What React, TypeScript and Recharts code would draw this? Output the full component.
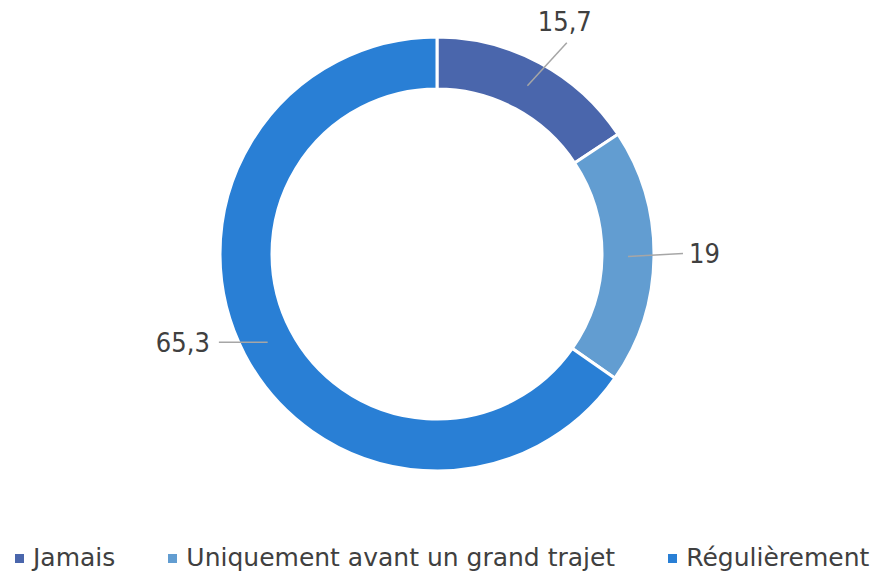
import React from 'react';
import { PieChart, Pie, Cell, Legend } from 'recharts';

const categories = ['Jamais', 'Uniquement avant un grand trajet', 'Régulièrement'];
const values = [15.7, 19, 65.3];
const colors = ['#4A66AC', '#629DD1', '#297FD5'];

const data = categories.map((name, i) => ({ name, value: values[i] }));

const RAD = Math.PI / 180;
const FONT = '"DejaVu Sans", sans-serif';

const fmt = (v: number) => String(v).replace('.', ',');

const renderLabel = (props: any) => {
  const { cx, cy, midAngle, innerRadius, outerRadius, value } = props;
  const cos = Math.cos(-midAngle * RAD);
  const sin = Math.sin(-midAngle * RAD);
  const rMid = (innerRadius + outerRadius) / 2;
  const sx = cx + rMid * cos;
  const sy = cy + rMid * sin;
  const rEnd = outerRadius + 29;
  const right = cos >= 0;
  const horizontal = Math.abs(sin) < 0.6;
  let ex: number, ey: number, tx: number, ty: number;
  let anchor: 'start' | 'end' | 'middle';
  if (horizontal) {
    // leader line runs flat out of the ring
    ex = cx + rEnd * cos;
    ey = sy - (right ? 3 : 0);
    tx = ex + (right ? 6 : -9);
    ty = ey;
    anchor = right ? 'start' : 'end';
  } else {
    const a = (-midAngle + 3.3) * RAD;
    ex = cx + (rEnd + 2) * Math.cos(a);
    ey = cy + (rEnd + 2) * Math.sin(a);
    tx = ex - 2;
    ty = ey - 21;
    anchor = 'middle';
  }
  return (
    <g>
      <line x1={sx} y1={sy} x2={ex} y2={ey} stroke="#A6A6A6" strokeWidth={1.5} />
      <text
        x={tx}
        y={ty}
        textAnchor={anchor}
        dominantBaseline="central"
        fill="#404040"
        fontSize={27}
        fontFamily={FONT}
        style={{ fontStretch: 'condensed' }}
      >
        {fmt(value)}
      </text>
    </g>
  );
};

const LegendContent = () => (
  <div
    style={{
      display: 'flex',
      alignItems: 'center',
      fontFamily: FONT,
      fontSize: 25,
      lineHeight: '32px',
      color: '#404040',
      whiteSpace: 'nowrap',
    }}
  >
    {categories.map((c, i) => (
      <div key={c} style={{ display: 'flex', alignItems: 'center', marginRight: i < 2 ? 53 : 0 }}>
        <span
          style={{
            display: 'inline-block',
            width: 9,
            height: 9,
            background: colors[i],
            marginRight: 9,
          }}
        />
        <span>{c}</span>
      </div>
    ))}
  </div>
);

export default function App() {
  return (
    <div style={{ position: 'absolute', left: 0, top: 0, background: '#fff' }}>
      <PieChart width={876} height={574}>
        <Pie
          data={data}
          dataKey="value"
          nameKey="name"
          cx={432}
          cy={249}
          innerRadius={165}
          outerRadius={217}
          startAngle={90}
          endAngle={-270}
          stroke="#fff"
          strokeWidth={3}
          label={renderLabel}
          labelLine={false}
          isAnimationActive={false}
        >
          {data.map((d, i) => (
            <Cell key={d.name} fill={colors[i]} />
          ))}
        </Pie>
        <Legend
          content={<LegendContent />}
          wrapperStyle={{ left: 15, top: 542, width: 870 }}
        />
      </PieChart>
    </div>
  );
}
